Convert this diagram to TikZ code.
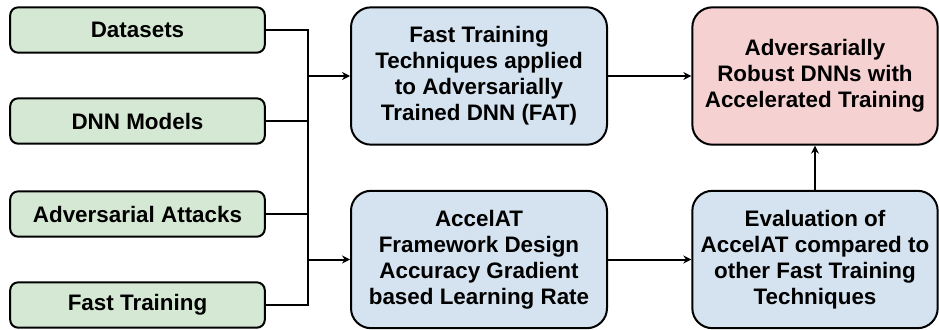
\documentclass[tikz,border=0pt]{standalone}
\usepackage{fontspec}
\setmainfont{Liberation Sans}
\usetikzlibrary{arrows.meta}

\definecolor{inputgreen}{RGB}{213,232,212}
\definecolor{stepblue}{RGB}{212,227,239}
\definecolor{goalpink}{RGB}{246,209,210}

\tikzset{every picture/.style={line width=1.5pt}}
\tikzset{
  inbox/.style={draw, fill=inputgreen, rounded corners=6pt, minimum width=191pt, minimum height=34pt,
    font=\fontsize{16.8}{19.5}\selectfont\bfseries, inner sep=0pt},
  stagebox/.style={draw, fill=stepblue, rounded corners=15pt, minimum width=192pt, minimum height=103pt,
    font=\fontsize{16.8}{19.5}\selectfont\bfseries, align=center, inner sep=0pt},
  link/.style={line width=1.5pt, -{Stealth[length=6pt,width=6pt,inset=2pt]}}
}

\begin{document}
\begin{tikzpicture}[x=0.75pt,y=0.75pt,yscale=-1,xscale=1]
\useasboundingbox (0,0) rectangle (939,329);

%Shape: inputs
\node [inbox] (data) at (137.5,30) {Datasets};
\node [inbox] (dnn) at (137.5,121) {DNN Models};
\node [inbox] (atk) at (137.5,214) {Adversarial Attacks};
\node [inbox] (fast) at (137.5,305) {Fast Training};

%Shape: stages
\node [stagebox] (fat) at (479,76) {Fast Training\\Techniques applied\\to Adversarially\\Trained DNN (FAT)};
\node [stagebox] (accel) at (479,259.5) {AccelAT\\Framework Design\\Accuracy Gradient\\based Learning Rate};
\node [stagebox, minimum width=184pt] (eval) at (815,259.5) {Evaluation of\\AccelAT compared to\\other Fast Training\\Techniques};
\node [stagebox, minimum width=184pt, fill=goalpink] (robust) at (815,76) {Adversarially\\Robust DNNs with\\Accelerated Training};

%Straight Lines: bus
\coordinate (bus) at (308,0);
\draw (data.east) -- (data.east -| bus) -- (fast.east -| bus) -- (fast.east);
\draw (dnn.east) -- (dnn.east -| bus);
\draw (atk.east) -- (atk.east -| bus);

%Straight Lines: arrows
\draw [link] (fat.west -| bus) -- (fat.west);
\draw [link] (accel.west -| bus) -- (accel.west);
\draw [link] (fat) -- (robust);
\draw [link] (accel) -- (eval);
\draw [link] (eval) -- (robust);

\end{tikzpicture}
\end{document}
